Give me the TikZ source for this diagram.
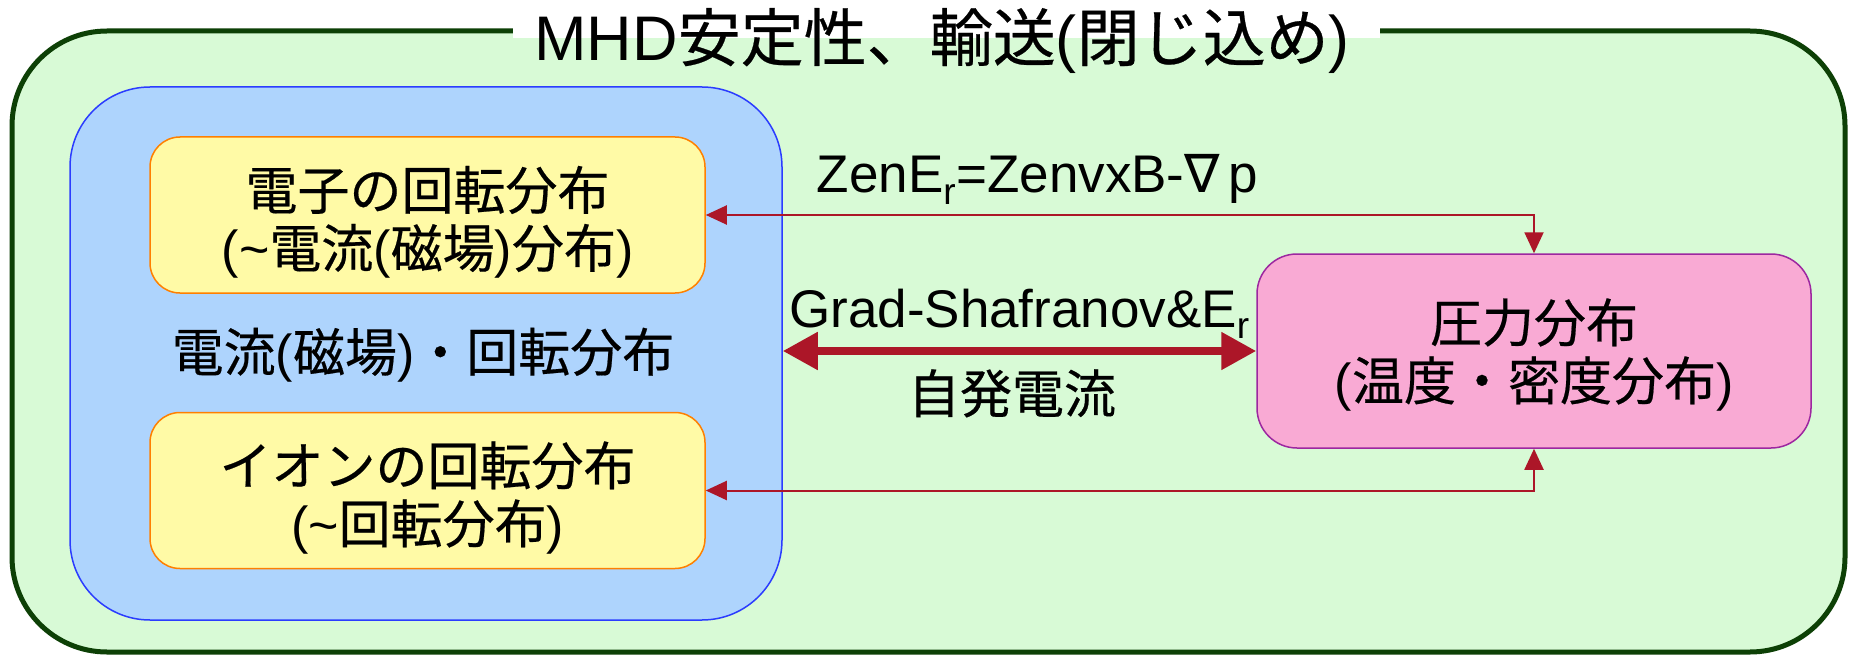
\documentclass[tikz,border=0pt]{standalone}
\usepackage{fontspec}
\setmainfont{Liberation Sans}
\newfontfamily\cjk{Noto Sans CJK JP}[FakeBold=0.4]
\newfontfamily\dvsans{DejaVu Sans}
\usetikzlibrary{arrows.meta}
\newcommand{\jp}[1]{{\cjk #1}}
\newcommand{\upstrut}[1]{\rule{0pt}{#1}}
\definecolor{outerfill}{HTML}{D8FAD6}
\definecolor{outerline}{HTML}{0D4006}
\definecolor{bluefill}{HTML}{AED4FD}
\definecolor{blueline}{HTML}{2B3CFF}
\definecolor{yelfill}{HTML}{FFFAA6}
\definecolor{yelline}{HTML}{FF8000}
\definecolor{pinkfill}{HTML}{F9AAD4}
\definecolor{pinkline}{HTML}{9D27A0}
\definecolor{arrred}{HTML}{AC1628}
\tikzset{
  outerbox/.style={draw=outerline, fill=outerfill, line width=5pt, rounded corners=95pt, minimum width=1833pt, minimum height=621pt},
  bluebox/.style={draw=blueline, fill=bluefill, line width=1.5pt, rounded corners=80pt, minimum width=712pt, minimum height=533pt},
  yelbox/.style={draw=yelline, fill=yelfill, line width=1.5pt, rounded corners=30pt, minimum width=555pt, minimum height=156pt, align=center, font=\fontsize{52}{58}\selectfont},
  pinkbox/.style={draw=pinkline, fill=pinkfill, line width=1.5pt, rounded corners=40pt, minimum width=554pt, minimum height=194pt, align=center, font=\fontsize{52}{58}\selectfont},
  bigtext/.style={font=\fontsize{52}{58}\selectfont, inner sep=0pt},
  eqtext/.style={font=\fontsize{53}{60}\selectfont, inner sep=0pt, anchor=base},
  thinlink/.style={draw=arrred, line width=2pt, {Triangle[length=21pt,width=19pt]}-{Triangle[length=21pt,width=19pt]}},
  thicklink/.style={draw=arrred, line width=8pt, {Triangle[length=35pt,width=36pt]}-{Triangle[length=35pt,width=36pt]}}
}
\begin{document}
\begin{tikzpicture}[x=1pt,y=-1pt]
\useasboundingbox (0,0) rectangle (1849,655);
\fill[white] (0,0) rectangle (1849,655);
\node[outerbox] (outer) at (928.5,341.5) {};
\fill[white] (513,0) rectangle (1380,38);
\node[font=\fontsize{63}{70}\selectfont, inner sep=0pt, anchor=base] (title) at (942,61) {MHD\jp{安定性、輸送}(\jp{閉じ込め})};
\node[bluebox] (blue) at (426,353.5) {};
\node[yelbox] (ye) at (427.5,215) {\upstrut{58pt}\jp{電子の回転分布}\\(\textasciitilde\jp{電流}(\jp{磁場})\jp{分布})};
\node[yelbox] (yi) at (427.5,490.5) {\upstrut{58pt}\jp{イオンの回転分布}\\(\textasciitilde\jp{回転分布})};
\node[bigtext] (mid) at (423,355) {\jp{電流}(\jp{磁場})\jp{・回転分布}};
\node[pinkbox] (pink) at (1534,351) {\upstrut{51pt}\jp{圧力分布}\\(\jp{温度・密度分布})};
\node[eqtext] (eq) at (1037.5,193) {ZenE\textsubscript{r}=ZenvxB-{\dvsans ∇}\,p};
\node[eqtext] (gs) at (1019.5,327) {Grad-Shafranov\&E\textsubscript{r}};
\node[bigtext, anchor=base] (bs) at (1012,413) {\jp{自発電流}};
\draw[thinlink] (ye.east) -| (pink.north);
\draw[thinlink] (yi.east) -| (pink.south);
\draw[thicklink] (pink.west -| blue.east) -- (pink.west);
\end{tikzpicture}
\end{document}
